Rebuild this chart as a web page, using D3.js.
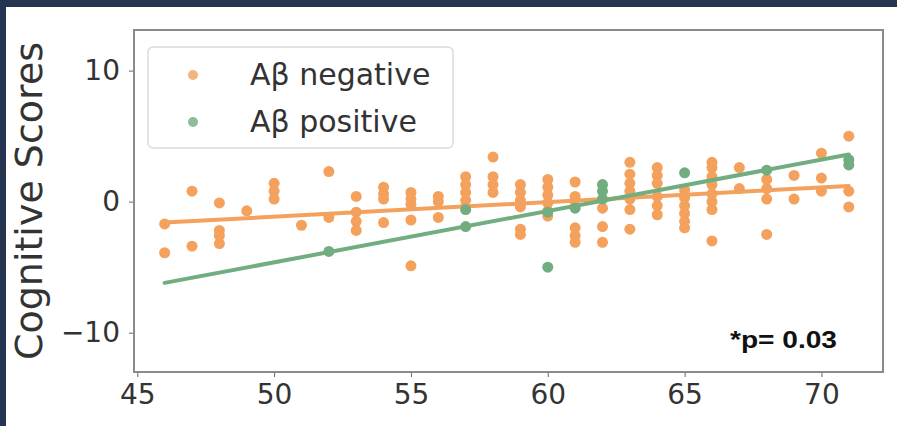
<!DOCTYPE html>
<html>
<head>
    <meta charset="utf-8">
    <script src="https://d3js.org/d3.v7.min.js"></script>
    <style>
        body { margin: 0; background: #fff; }
        svg { display: block; }
        .tick text { font-family: "DejaVu Sans", sans-serif; fill: #333; }
        .tick line { stroke: #666; }
    </style>
</head>
<body>
    <svg></svg>
    <script>
        // Aβ negative: age and cognitive score
        const negAge = [
            46, 46, 47, 47, 48, 48, 48, 48, 49, 50, 50, 50, 51, 52, 52,
            53, 53, 53, 53, 54, 54, 54, 54, 55, 55, 55, 55, 55, 56, 56, 56,
            57, 57, 57, 57, 57, 58, 58, 58, 58, 59, 59, 59, 59, 59, 59,
            60, 60, 60, 60, 60, 60, 61, 61, 61, 61, 61, 61, 62, 62, 62,
            63, 63, 63, 63, 63, 63, 63, 64, 64, 64, 64, 64, 64,
            65, 65, 65, 65, 65, 65, 66, 66, 66, 66, 66, 66, 66, 66,
            67, 67, 68, 68, 68, 68, 69, 69, 70, 70, 70, 71, 71, 71
        ];
        const negScore = [
            -1.7, -3.9, 0.8, -3.4, -0.1, -2.2, -2.6, -3.2, -0.7, 1.4, 0.8, 0.2, -1.8, 2.3, -1.2,
            0.4, -0.8, -1.5, -2.2, 1.1, 0.6, 0.2, -1.6, 0.7, 0.2, -0.2, -1.4, -4.9, 0.4, 0.0, -1.2,
            1.9, 1.3, 0.7, 0.1, -0.4, 3.4, 1.9, 1.3, 0.7, 1.3, 0.7, 0.1, -0.4, -2.1, -2.5,
            1.7, 1.1, 0.5, -0.1, -0.7, -1.1, 1.5, 0.4, -0.3, -2.0, -2.6, -3.1, -0.5, -1.9, -3.1,
            3.0, 2.1, 1.4, 0.8, 0.2, -0.6, -2.1, 2.6, 2.0, 1.4, 0.4, -0.3, -1.0,
            0.9, 0.3, -0.3, -0.9, -1.5, -2.0, 3.0, 2.6, 1.9, 1.3, 0.6, 0.0, -0.6, -3.0,
            2.6, 1.0, 1.7, 1.0, 0.2, -2.5, 2.0, 0.2, 3.7, 1.8, 0.8, 5.0, 0.8, -0.4
        ];

        // Aβ positive
        const posAge = [52, 57, 57, 60, 60, 61, 62, 62, 62, 65, 68, 71, 71];
        const posScore = [-3.8, -0.6, -1.9, -0.8, -5.0, -0.5, 1.3, 0.8, 0.2, 2.2, 2.4, 3.2, 2.8];

        // regression line ends [age, score]
        const negFit = [[46, -1.6], [71, 1.2]];
        const posFit = [[46, -6.2], [71, 3.6]];

        const xTicks = [45, 50, 55, 60, 65, 70];
        const yTicks = [-10, 0, 10];
        const legendLabels = ["Aβ negative", "Aβ positive"];
        const pText = "*p= 0.03";

        const orange = "#f4a15d";
        const green = "#72ad80";

        const width = 897, height = 426;
        const plot = { left: 134, right: 883, top: 30, bottom: 372 };

        const svg = d3.select("svg")
            .attr("width", width)
            .attr("height", height);

        svg.append("rect")
            .attr("width", width).attr("height", height)
            .attr("fill", "#fff");

        // dark page border
        svg.append("rect").attr("x", 0).attr("y", 0).attr("width", width).attr("height", 7).attr("fill", "#253450");
        svg.append("rect").attr("x", 0).attr("y", 0).attr("width", 6).attr("height", height).attr("fill", "#253450");

        const x = d3.scaleLinear().domain([44.88, 72.25]).range([plot.left, plot.right]);
        const y = d3.scaleLinear().domain([-13, 13.1]).range([plot.bottom, plot.top]);

        const fmt = d => d < 0 ? "\u2212" + Math.abs(d) : String(d);

        // axes
        const gx = svg.append("g")
            .attr("transform", `translate(0,${plot.bottom})`)
            .call(d3.axisBottom(x).tickValues(xTicks).tickSize(5).tickPadding(7));
        gx.select(".domain").remove();
        gx.selectAll("text").attr("font-size", 28);

        const gy = svg.append("g")
            .attr("transform", `translate(${plot.left},0)`)
            .call(d3.axisLeft(y).tickValues(yTicks).tickFormat(fmt).tickSize(5).tickPadding(9));
        gy.select(".domain").remove();
        gy.selectAll("text").attr("font-size", 28);

        // frame
        svg.append("rect")
            .attr("x", plot.left).attr("y", plot.top)
            .attr("width", plot.right - plot.left)
            .attr("height", plot.bottom - plot.top)
            .attr("fill", "none")
            .attr("stroke", "#8a8a8a")
            .attr("stroke-width", 2);

        // y label
        svg.append("text")
            .attr("transform", `translate(42,${(plot.top + plot.bottom) / 2}) rotate(-90)`)
            .attr("text-anchor", "middle")
            .attr("font-family", "DejaVu Sans, sans-serif")
            .attr("font-size", 38)
            .attr("fill", "#333")
            .text("Cognitive Scores");

        const line = d3.line().x(d => x(d[0])).y(d => y(d[1]));

        function drawGroup(ages, scores, fit, color) {
            svg.append("g")
                .selectAll("circle")
                .data(ages)
                .join("circle")
                .attr("cx", d => x(d))
                .attr("cy", (d, i) => y(scores[i]))
                .attr("r", 5.5)
                .attr("fill", color);
            svg.append("path")
                .datum(fit)
                .attr("d", line)
                .attr("fill", "none")
                .attr("stroke", color)
                .attr("stroke-width", 4)
                .attr("stroke-linecap", "round");
        }

        drawGroup(negAge, negScore, negFit, orange);
        drawGroup(posAge, posScore, posFit, green);

        // legend
        const lg = svg.append("g");
        lg.append("rect")
            .attr("x", 148).attr("y", 47)
            .attr("width", 305).attr("height", 101)
            .attr("rx", 5)
            .attr("fill", "#fff")
            .attr("fill-opacity", 0.85)
            .attr("stroke", "#dcdcdc")
            .attr("stroke-width", 1.5);
        [orange, green].forEach((c, i) => {
            lg.append("circle")
                .attr("cx", 193).attr("cy", 75 + i * 47)
                .attr("r", 5)
                .attr("fill", c)
                .attr("opacity", 0.8);
            lg.append("text")
                .attr("x", 250).attr("y", 85 + i * 47)
                .attr("font-family", "DejaVu Sans, sans-serif")
                .attr("font-size", 30)
                .attr("fill", "#333")
                .text(legendLabels[i]);
        });

        // p-value note
        svg.append("text")
            .attr("x", 730).attr("y", 348)
            .attr("font-family", "Liberation Sans, Arial, sans-serif")
            .attr("font-weight", "bold")
            .attr("font-size", 24)
            .attr("textLength", 107)
            .attr("lengthAdjust", "spacingAndGlyphs")
            .attr("fill", "#111")
            .text(pText);
    </script>
</body>
</html>
